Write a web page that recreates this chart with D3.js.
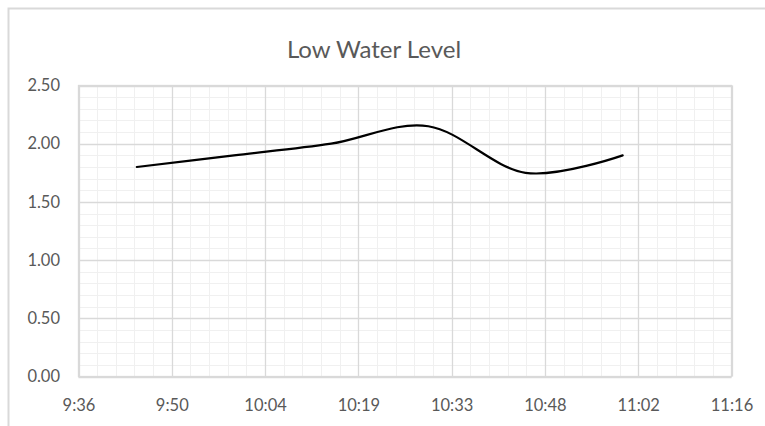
<!DOCTYPE html>
<html>
<head>
<meta charset="utf-8">
<script src="https://cdn.jsdelivr.net/npm/d3@7"></script>
<style>
  html, body { margin: 0; padding: 0; background: #fff; }
  svg { display: block; }
  text { font-family: Lato, "Open Sans", sans-serif; fill: #595959; }
</style>
</head>
<body>
<svg id="chart" width="765" height="426"></svg>
<script>
// ---- data ----
const title = "Low Water Level";
const times = ["9:45", "10:00", "10:15", "10:30", "10:45", "11:00"];
const levels = [1.80, 1.90, 2.00, 2.15, 1.75, 1.90];
const xTickLabels = ["9:36", "9:50", "10:04", "10:19", "10:33", "10:48", "11:02", "11:16"];
const yTickValues = [0, 0.5, 1.0, 1.5, 2.0, 2.5];
// axis in fractions of a day (Excel style): min 0.40, max 0.47, major 0.01, minor 0.002
const xMinDay = 0.40, xMaxDay = 0.47, xMajor = 0.01, xMinor = 0.002;
const yMin = 0, yMax = 2.5, yMinor = 0.1;

// ---- layout ----
const L = 78.5, R = 731.5, T = 85.5, B = 376.5;
const svg = d3.select("#chart");

// chart border
svg.append("rect").attr("x", 8.5).attr("y", 8.5).attr("width", 800).attr("height", 500)
  .attr("fill", "none").attr("stroke", "#d9d9d9").attr("stroke-width", 2);

const toDay = s => { const [h, m] = s.split(":").map(Number); return (h * 60 + m) / 1440; };

const x = d3.scaleLinear().domain([xMinDay, xMaxDay]).range([L, R]);
const y = d3.scaleLinear().domain([yMin, yMax]).range([B, T]);

const nMajorX = Math.round((xMaxDay - xMinDay) / xMajor);
const nMinorX = Math.round((xMaxDay - xMinDay) / xMinor);
const minorX = d3.range(nMinorX + 1).map(i => xMinDay + i * xMinor);
const majorX = d3.range(nMajorX + 1).map(i => xMinDay + i * xMajor);
const minorY = d3.range(Math.round((yMax - yMin) / yMinor) + 1).map(i => yMin + i * yMinor);

const g = svg.append("g");
// minor grid
g.selectAll(".mx").data(minorX).enter().append("line")
  .attr("x1", d => Math.round(x(d)) + 0.5).attr("x2", d => Math.round(x(d)) + 0.5)
  .attr("y1", T).attr("y2", B).attr("stroke", "#f0f0f0").attr("stroke-width", 1);
g.selectAll(".my").data(minorY).enter().append("line")
  .attr("y1", d => Math.round(y(d)) + 0.5).attr("y2", d => Math.round(y(d)) + 0.5)
  .attr("x1", L).attr("x2", R).attr("stroke", "#f0f0f0").attr("stroke-width", 1);
// major grid
g.selectAll(".Mx").data(majorX).enter().append("line")
  .attr("x1", d => Math.round(x(d)) + 0.5).attr("x2", d => Math.round(x(d)) + 0.5)
  .attr("y1", T).attr("y2", B).attr("stroke", "#d9d9d9").attr("stroke-width", 1.3);
g.selectAll(".My").data(yTickValues).enter().append("line")
  .attr("y1", d => Math.round(y(d)) + 0.5).attr("y2", d => Math.round(y(d)) + 0.5)
  .attr("x1", L).attr("x2", R).attr("stroke", "#d9d9d9").attr("stroke-width", 1.3);
// plot outline
g.append("rect").attr("x", L).attr("y", T).attr("width", R - L).attr("height", B - T)
  .attr("fill", "none").attr("stroke", "#d9d9d9").attr("stroke-width", 1.3);

// axes labels via d3 axes
const xAxis = d3.axisBottom(x).tickValues(majorX).tickSize(0).tickPadding(0)
  .tickFormat((d, i) => xTickLabels[i]);
const xa = svg.append("g").attr("transform", `translate(0,${B})`).call(xAxis);
xa.select(".domain").remove();
xa.selectAll("text").attr("y", 34).attr("dy", null).style("font-size", "16.5px")
  .style("fill", "#595959").style("font-family", "Lato, 'Open Sans', sans-serif");

const yAxis = d3.axisLeft(y).tickValues(yTickValues).tickSize(0).tickPadding(0)
  .tickFormat(d3.format(".2f"));
const ya = svg.append("g").attr("transform", `translate(60,0)`).call(yAxis);
ya.select(".domain").remove();
ya.selectAll("text").attr("x", 0).style("font-size", "16.5px")
  .style("fill", "#595959").style("font-family", "Lato, 'Open Sans', sans-serif");

// line
const pts = times.map((t, i) => [toDay(t), levels[i]]);
const line = d3.line().x(d => x(d[0])).y(d => y(d[1])).curve(d3.curveCardinal.tension(0));
svg.append("path").datum(pts).attr("d", line)
  .attr("fill", "none").attr("stroke", "#000").attr("stroke-width", 2.2)
  .attr("stroke-linecap", "round");

// title
svg.append("text").attr("x", 374).attr("y", 58).attr("text-anchor", "middle")
  .style("font-size", "24px").text(title);
</script>
</body>
</html>
